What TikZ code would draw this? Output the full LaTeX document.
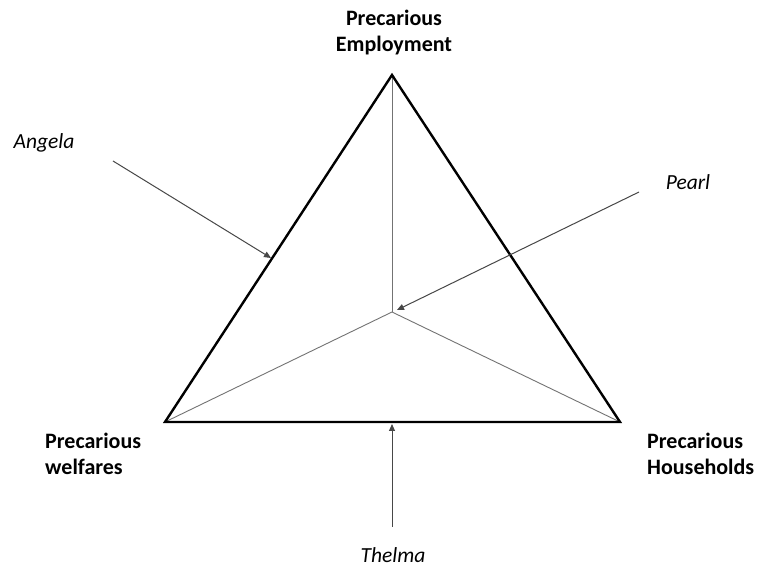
\documentclass[tikz,border=0pt]{standalone}
\usepackage{fontspec}
\setmainfont{Carlito}
\usetikzlibrary{arrows.meta}
\begin{document}
\begin{tikzpicture}[x=1pt,y=-1pt,
  heading/.style={font=\fontsize{22}{26}\selectfont\bfseries, align=left, inner sep=0pt},
  who/.style={font=\fontsize{21.5}{26}\selectfont\itshape, inner sep=0pt},
  edge/.style={line width=2.4pt, line join=miter},
  spoke/.style={line width=0.9pt, draw=black!55},
  pointer/.style={line width=1pt, draw=black!72, -{Triangle[length=7pt,width=6pt]}}]
\useasboundingbox (0,0) rectangle (764,569);
\fill[white] (0,0) rectangle (764,569);
% vertices
\coordinate (T) at (392,75);
\coordinate (L) at (165,422);
\coordinate (R) at (620,422);
\coordinate (C) at (392,312);
% spokes
\draw[spoke] (C) -- (T);
\draw[spoke] (C) -- (L);
\draw[spoke] (C) -- (R);
% triangle
\draw[edge] (T) -- (R) -- (L) -- cycle;
% labels
\node[heading, align=center] (emp) at (394,33) {Precarious\\Employment};
\node[heading, anchor=west] (wel) at (45,454) {Precarious\\welfares};
\node[heading, anchor=west] (hou) at (647,454) {Precarious\\Households};
\node[who] (angela) at (44,143) {Angela};
\node[who] (pearl) at (688,182) {Pearl};
\node[who] (thelma) at (393,555) {Thelma};
% arrows
\coordinate (a0) at (113,161);
\coordinate (a1) at (271,258);
\coordinate (p0) at (639,192);
\coordinate (p1) at (397,310);
\coordinate (t0) at (392,527);
\coordinate (t1) at (392,424);
\draw[pointer] (a0) -- (a1);
\draw[pointer] (p0) -- (p1);
\draw[pointer] (t0) -- (t1);
\end{tikzpicture}
\end{document}
